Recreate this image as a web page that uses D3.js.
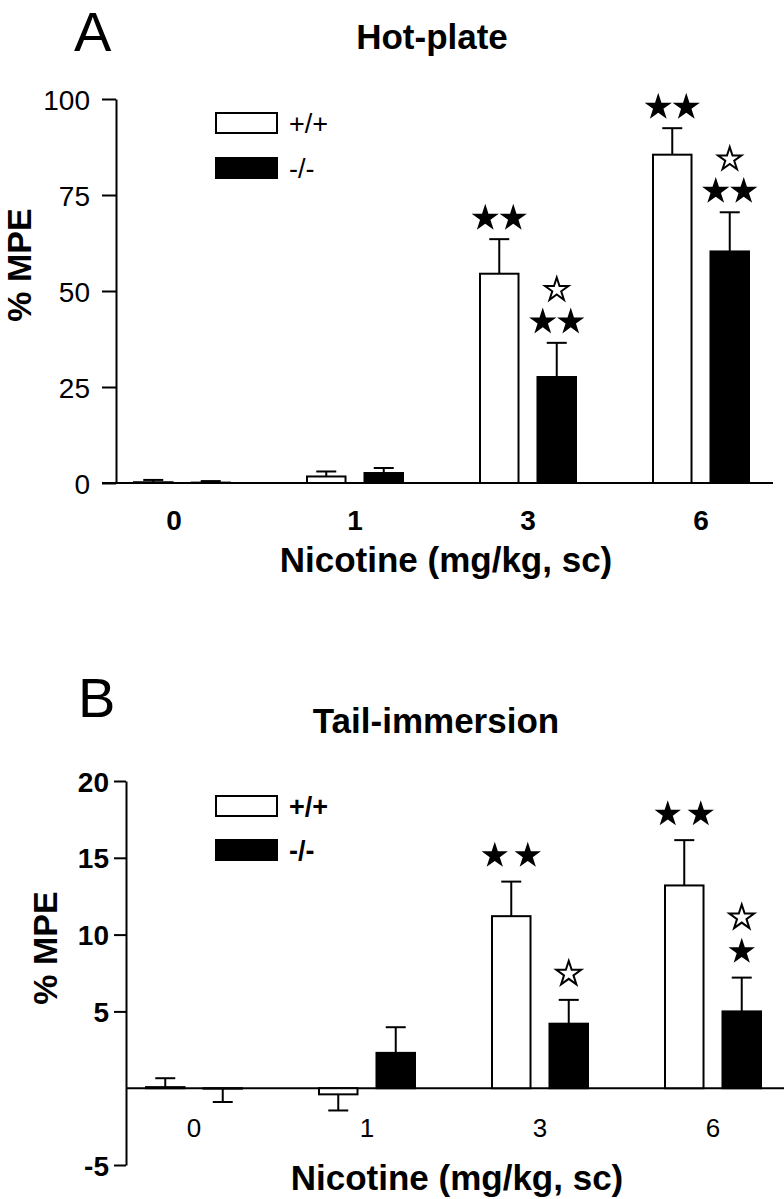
<!DOCTYPE html>
<html>
<head>
<meta charset="utf-8">
<script src="https://cdn.jsdelivr.net/npm/d3@7"></script>
<style>
  body { margin: 0; background: #fff; }
  text { font-family: "Liberation Sans", Arial, Helvetica, sans-serif; fill: #000; }
</style>
</head>
<body>
<svg id="chart" width="784" height="1199"></svg>
<script>
// doses and genotypes
const doses = ["0", "1", "3", "6"];
const genotypes = ["+/+", "-/-"];

// A: hot-plate, % MPE (mean, sem)
const hotWtMean = [0.2, 1.7, 54.5, 85.5];
const hotWtSem  = [0.6, 1.3, 9.0, 6.9];
const hotKoMean = [0.1, 2.6, 27.6, 60.3];
const hotKoSem  = [0.4, 1.3, 8.9, 10.2];
const hotTicks = [0, 25, 50, 75, 100];

// B: tail-immersion, % MPE (mean, sem)
const tailWtMean = [0.07, -0.4, 11.2, 13.2];
const tailWtSem  = [0.58, 1.05, 2.25, 2.95];
const tailKoMean = [-0.03, 2.3, 4.2, 5.0];
const tailKoSem  = [0.87, 1.67, 1.55, 2.2];
const tailTicks = [-5, 5, 10, 15, 20];

// significance stars: filled = vs saline, open = vs +/+
const hotStars = [
  {dose: "3", geno: "+/+", filled: 2, open: 0},
  {dose: "3", geno: "-/-", filled: 2, open: 1},
  {dose: "6", geno: "+/+", filled: 2, open: 0},
  {dose: "6", geno: "-/-", filled: 2, open: 1}
];
const tailStars = [
  {dose: "3", geno: "+/+", filled: 2, open: 0},
  {dose: "3", geno: "-/-", filled: 0, open: 1},
  {dose: "6", geno: "+/+", filled: 2, open: 0},
  {dose: "6", geno: "-/-", filled: 1, open: 1}
];

const svg = d3.select("#chart");

const rows = (wm, ws, km, ks) => doses.flatMap((d, i) => [
  {dose: d, geno: "+/+", mean: wm[i], sem: ws[i]},
  {dose: d, geno: "-/-", mean: km[i], sem: ks[i]}
]);

const drawPanel = (p) => {
  const g = svg.append("g");
  const x = d3.scalePoint().domain(doses).range(p.xRange);
  const xSub = d3.scaleBand().domain(genotypes).range([-48, 48]).paddingInner(0.33);
  const y = d3.scaleLinear().domain(p.yDomain).range(p.yRange);
  const bw = xSub.bandwidth();
  const cx = d => x(d.dose) + xSub(d.geno) + bw / 2;

  // y axis
  const yAxis = d3.axisLeft(y).tickValues(p.ticks).tickFormat(d => String(d))
    .tickSize(p.tickLen).tickSizeOuter(0).tickPadding(p.tickPad);
  const ya = g.append("g").attr("transform", `translate(${p.axisX},0)`).call(yAxis);
  ya.selectAll("path, line").attr("stroke", "#000").attr("stroke-width", 2);
  ya.selectAll("text")
    .style("font-size", "28px")
    .style("font-weight", p.tickBold ? "bold" : "normal")
    .attr("dy", "0.36em");

  // baseline at zero
  g.append("line")
    .attr("x1", p.baseX0).attr("x2", p.baseX1)
    .attr("y1", y(0)).attr("y2", y(0))
    .attr("stroke", "#000").attr("stroke-width", 2);

  // x labels
  g.selectAll(".xl").data(doses).join("text")
    .attr("x", d => x(d) + (p.xLabelShift[d] || 0))
    .attr("y", p.xLabelY)
    .attr("text-anchor", "middle")
    .style("font-size", p.xLabelSize + "px")
    .style("font-weight", p.xLabelBold ? "bold" : "normal")
    .text(d => d);

  // error bars (direction follows sign of mean)
  const errEnd = d => d.mean >= 0 ? d.mean + d.sem : d.mean - d.sem;
  g.selectAll(".err").data(p.data).join("line")
    .attr("x1", cx).attr("x2", cx)
    .attr("y1", d => y(d.mean)).attr("y2", d => y(errEnd(d)))
    .attr("stroke", "#000").attr("stroke-width", 2);
  g.selectAll(".cap").data(p.data).join("line")
    .attr("x1", d => cx(d) - 10).attr("x2", d => cx(d) + 10)
    .attr("y1", d => y(errEnd(d))).attr("y2", d => y(errEnd(d)))
    .attr("stroke", "#000").attr("stroke-width", 2);

  // bars
  g.selectAll(".bar").data(p.data).join("rect")
    .attr("x", d => x(d.dose) + xSub(d.geno))
    .attr("width", bw)
    .attr("y", d => Math.min(y(d.mean), y(0)))
    .attr("height", d => Math.abs(y(d.mean) - y(0)))
    .attr("fill", d => d.geno === "+/+" ? "#fff" : "#000")
    .attr("stroke", "#000").attr("stroke-width", 2);

  // stars
  const star = d3.symbol().type(d3.symbolStar);
  p.stars.forEach(s => {
    const d = p.data.find(r => r.dose === s.dose && r.geno === s.geno);
    const x0 = cx(d);
    let yy = y(errEnd(d)) - p.starGap;
    if (s.filled > 0) {
      for (let k = 0; k < s.filled; k++) {
        const dx = (k - (s.filled - 1) / 2) * p.starSpacing;
        g.append("path")
          .attr("d", star.size(p.starSize)())
          .attr("transform", `translate(${x0 + dx},${yy})`)
          .attr("fill", "#000");
      }
      yy -= p.rowGap;
    }
    for (let k = 0; k < s.open; k++) {
      g.append("path")
        .attr("d", star.size(p.openSize)())
        .attr("transform", `translate(${x0},${yy})`)
        .attr("fill", "#fff").attr("stroke", "#000").attr("stroke-width", 2);
    }
  });

  // legend
  genotypes.forEach((gt, i) => {
    g.append("rect")
      .attr("x", 216).attr("y", p.legendY[i])
      .attr("width", 61).attr("height", 20)
      .attr("fill", gt === "+/+" ? "#fff" : "#000")
      .attr("stroke", "#000").attr("stroke-width", 2);
    g.append("text")
      .attr("x", 289).attr("y", p.legendY[i] + 10)
      .attr("dy", "0.36em")
      .style("font-size", "27px")
      .style("font-weight", p.legendBold ? "bold" : "normal")
      .text(gt);
  });

  // titles
  g.append("text").attr("x", p.letterX).attr("y", p.letterY)
    .style("font-size", "56px").text(p.letter);
  g.append("text").attr("x", p.titleX).attr("y", p.titleY)
    .attr("text-anchor", "middle")
    .style("font-size", "35px").style("font-weight", "bold")
    .text(p.title);
  g.append("text")
    .attr("transform", `translate(${p.yTitleX},${p.yTitleY}) rotate(-90)`)
    .attr("text-anchor", "middle")
    .style("font-size", "34px").style("font-weight", "bold")
    .text("% MPE");
  g.append("text").attr("x", p.xTitleX).attr("y", p.xTitleY)
    .attr("text-anchor", "middle")
    .style("font-size", "35px").style("font-weight", "bold")
    .text("Nicotine (mg/kg, sc)");
};

drawPanel({
  data: rows(hotWtMean, hotWtSem, hotKoMean, hotKoSem),
  stars: hotStars,
  xRange: [182, 701],
  yDomain: [0, 100], yRange: [483, 99],
  ticks: hotTicks, tickLen: 14, tickPad: 12, tickBold: false,
  axisX: 116, baseX0: 102, baseX1: 773,
  xLabelY: 530, xLabelSize: 28, xLabelBold: true, xLabelShift: {"0": -8},
  starGap: 21, rowGap: 32, starSpacing: 28, starSize: 230, openSize: 170,
  legendY: [113, 158], legendBold: false,
  letter: "A", letterX: 74, letterY: 51,
  title: "Hot-plate", titleX: 432, titleY: 49,
  yTitleX: 31, yTitleY: 265,
  xTitleX: 446, xTitleY: 572
});

drawPanel({
  data: rows(tailWtMean, tailWtSem, tailKoMean, tailKoSem),
  stars: tailStars,
  xRange: [194, 713],
  yDomain: [-5, 20], yRange: [1165, 781],
  ticks: tailTicks, tickLen: 12, tickPad: 5, tickBold: true,
  axisX: 126, baseX0: 126, baseX1: 784,
  xLabelY: 1137, xLabelSize: 26, xLabelBold: false, xLabelShift: {},
  starGap: 26, rowGap: 34, starSpacing: 33, starSize: 215, openSize: 190,
  legendY: [796, 840], legendBold: true,
  letter: "B", letterX: 78, letterY: 717,
  title: "Tail-immersion", titleX: 436, titleY: 733,
  yTitleX: 57, yTitleY: 948,
  xTitleX: 457, xTitleY: 1190
});
</script>
</body>
</html>
